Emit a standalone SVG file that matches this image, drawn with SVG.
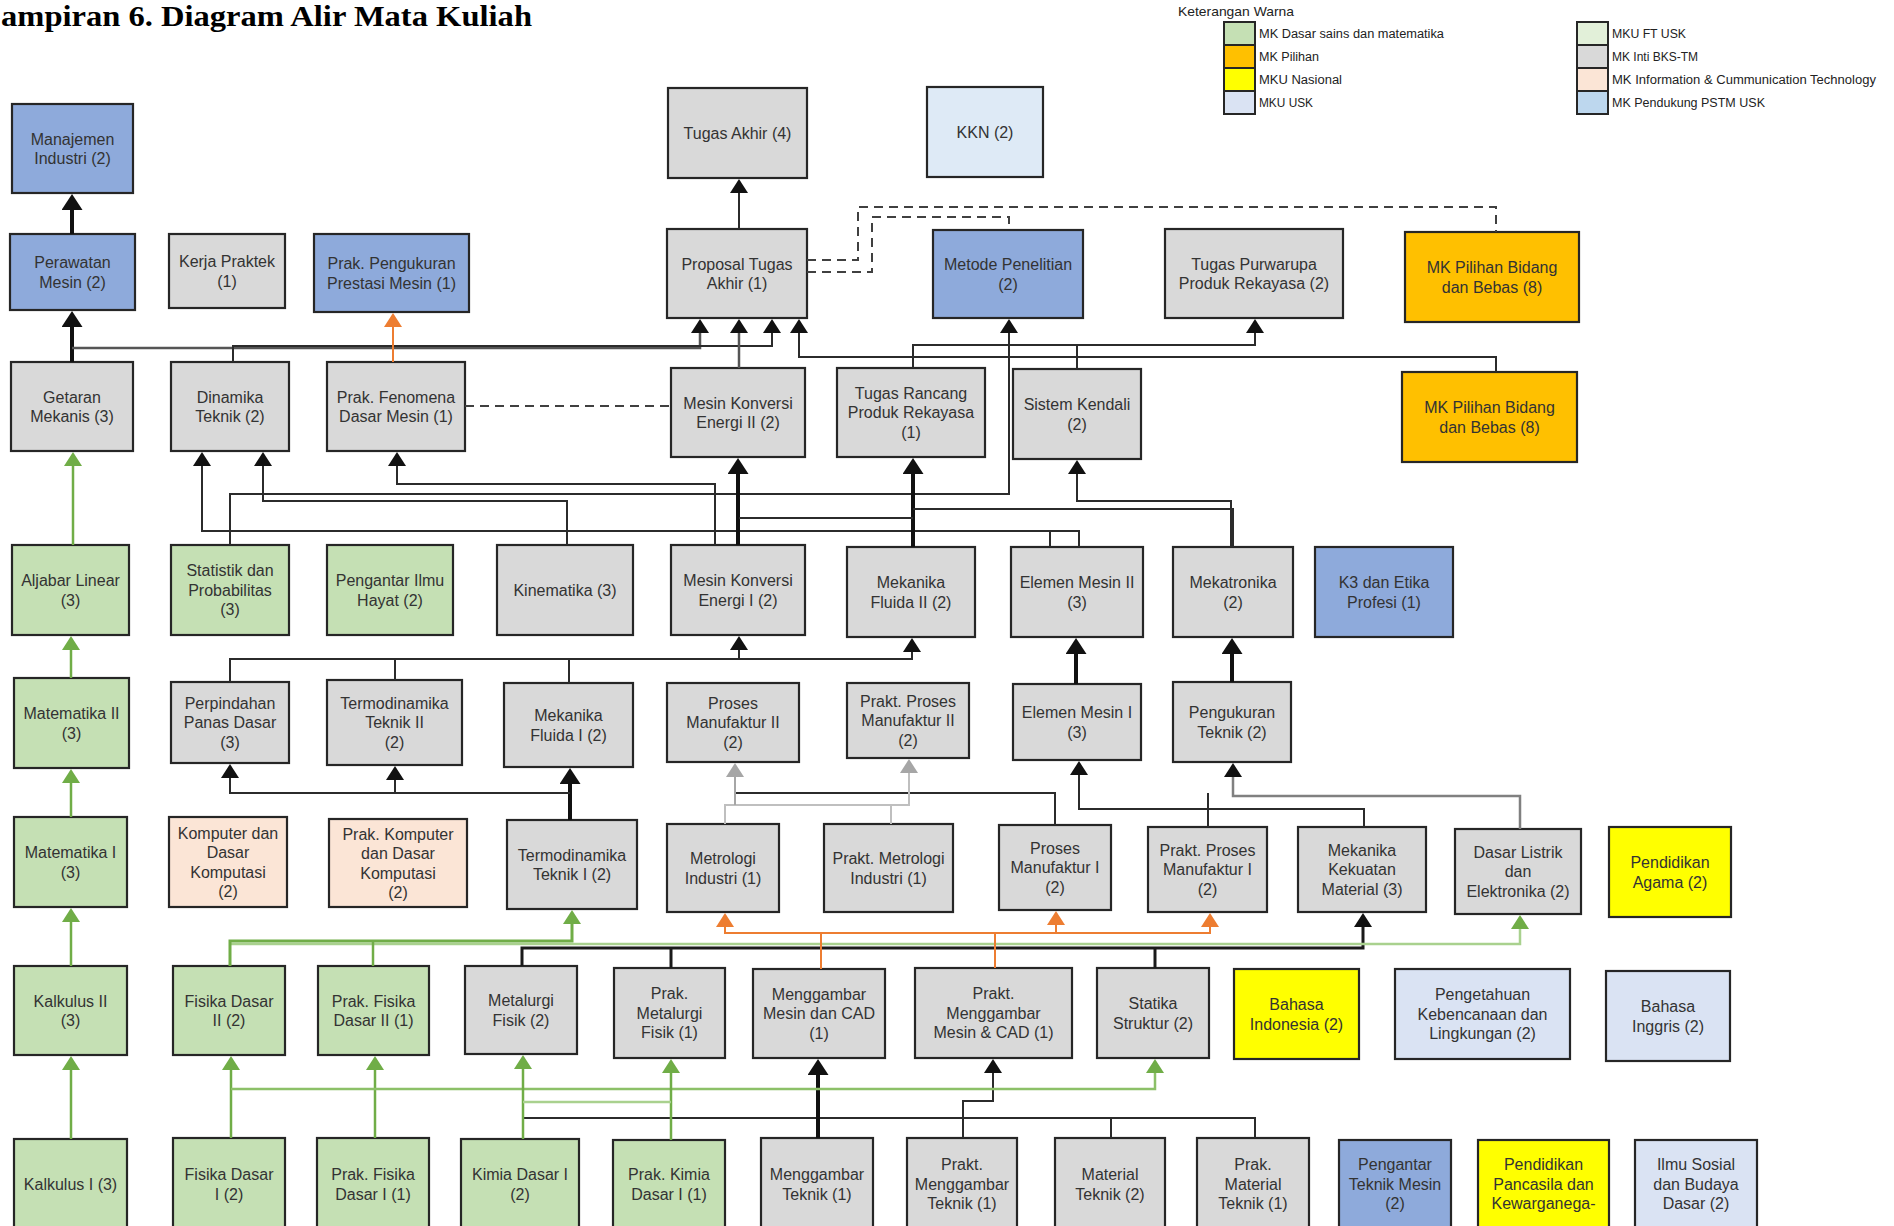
<svg xmlns="http://www.w3.org/2000/svg" width="1894" height="1226" viewBox="0 0 1894 1226">
<style>
.n rect{stroke:#262626;stroke-width:2.2}
.g{fill:#d9d9d9}.gr{fill:#c5e0b4}.b{fill:#8eaadb}.o{fill:#ffc000}.y{fill:#ffff00}.l{fill:#dae3f3}.p{fill:#fbe5d6}.k{fill:#deeaf6}.fg{fill:#e2f0d9}.pb{fill:#bdd7ee}
.t{font-family:"Liberation Sans",Arial,sans-serif;font-size:16px;fill:#333;text-anchor:middle}
.lg{font-family:"Liberation Sans",Arial,sans-serif;font-size:12.5px;fill:#222}
#connectors path{fill:none}
.c{stroke:#2b2b2b;stroke-width:2}
.c5{stroke:#555;stroke-width:2.5}
.ct{stroke:#111;stroke-width:4}
.cm{stroke:#1a1a1a;stroke-width:3}
.cg{stroke:#70ad47;stroke-width:2.5}
.clg{stroke:#a9d18e;stroke-width:2.5}
.cmg{stroke:#8cc068;stroke-width:2.5}
.co{stroke:#ed7d31;stroke-width:2}
.cgy{stroke:#bfbfbf;stroke-width:2}
.cgd{stroke:#808080;stroke-width:2.5}
.cd{stroke:#404040;stroke-width:2;stroke-dasharray:9 6}
</style>
<defs>
<marker id="ab" viewBox="0 0 14 18" refX="10" refY="9" markerWidth="14" markerHeight="18" markerUnits="userSpaceOnUse" orient="auto"><path d="M0,0L14,9L0,18z" fill="#111"/></marker>
<marker id="abb" viewBox="0 0 16 21" refX="11" refY="10.5" markerWidth="16" markerHeight="21" markerUnits="userSpaceOnUse" orient="auto"><path d="M0,0L16,10.5L0,21z" fill="#111"/></marker>
<marker id="ag" viewBox="0 0 14 18" refX="10" refY="9" markerWidth="14" markerHeight="18" markerUnits="userSpaceOnUse" orient="auto"><path d="M0,0L14,9L0,18z" fill="#70ad47"/></marker>
<marker id="ao" viewBox="0 0 14 18" refX="10" refY="9" markerWidth="14" markerHeight="18" markerUnits="userSpaceOnUse" orient="auto"><path d="M0,0L14,9L0,18z" fill="#ed7d31"/></marker>
<marker id="ay" viewBox="0 0 14 18" refX="10" refY="9" markerWidth="14" markerHeight="18" markerUnits="userSpaceOnUse" orient="auto"><path d="M0,0L14,9L0,18z" fill="#a6a6a6"/></marker>
</defs>
<rect width="1894" height="1226" fill="#fff"/>
<text x="1" y="26" font-family="Liberation Serif,serif" font-weight="bold" font-size="30" textLength="531" lengthAdjust="spacingAndGlyphs" fill="#000">ampiran 6. Diagram Alir Mata Kuliah</text>

<g id="legend">
<text x="1178" y="16" font-family="Liberation Sans,Arial,sans-serif" font-size="13" fill="#222" textLength="116" lengthAdjust="spacingAndGlyphs">Keterangan Warna</text>
<g stroke="#262626" stroke-width="2">
<rect x="1224" y="22" width="31" height="23" class="gr"/>
<rect x="1224" y="45" width="31" height="23" class="o"/>
<rect x="1224" y="68" width="31" height="23" class="y"/>
<rect x="1224" y="91" width="31" height="23" class="l"/>
<rect x="1577" y="22" width="31" height="23" class="fg"/>
<rect x="1577" y="45" width="31" height="23" class="g"/>
<rect x="1577" y="68" width="31" height="23" class="p"/>
<rect x="1577" y="91" width="31" height="23" class="pb"/>
</g>
<text class="lg" x="1259" y="38" textLength="185" lengthAdjust="spacingAndGlyphs">MK Dasar sains dan matematika</text>
<text class="lg" x="1259" y="61" textLength="60" lengthAdjust="spacingAndGlyphs">MK Pilihan</text>
<text class="lg" x="1259" y="84" textLength="83" lengthAdjust="spacingAndGlyphs">MKU Nasional</text>
<text class="lg" x="1259" y="107" textLength="54" lengthAdjust="spacingAndGlyphs">MKU USK</text>
<text class="lg" x="1612" y="38" textLength="74" lengthAdjust="spacingAndGlyphs">MKU FT USK</text>
<text class="lg" x="1612" y="61" textLength="86" lengthAdjust="spacingAndGlyphs">MK Inti BKS-TM</text>
<text class="lg" x="1612" y="84" textLength="264" lengthAdjust="spacingAndGlyphs">MK Information &amp; Cummunication Technology</text>
<text class="lg" x="1612" y="107" textLength="153" lengthAdjust="spacingAndGlyphs">MK Pendukung PSTM USK</text>
</g>

<g id="nodes">
<g id="manajemen-industri" class="n"><rect class="b" x="12" y="104" width="121" height="89"/><text class="t" y="144.5"><tspan x="72.5">Manajemen</tspan><tspan x="72.5" dy="19.5">Industri (2)</tspan></text></g>
<g id="tugas-akhir" class="n"><rect class="g" x="668" y="88" width="139" height="90"/><text class="t" x="737.5" y="138.7">Tugas Akhir (4)</text></g>
<g id="kkn" class="n"><rect class="k" x="927" y="87" width="116" height="90"/><text class="t" x="985" y="137.7">KKN (2)</text></g>

<g id="perawatan-mesin" class="n"><rect class="b" x="10" y="234" width="125" height="76"/><text class="t" y="268"><tspan x="72.5">Perawatan</tspan><tspan x="72.5" dy="19.5">Mesin (2)</tspan></text></g>
<g id="kerja-praktek" class="n"><rect class="g" x="169" y="234" width="116" height="74"/><text class="t" y="267"><tspan x="227">Kerja Praktek</tspan><tspan x="227" dy="19.5">(1)</tspan></text></g>
<g id="prak-pengukuran" class="n"><rect class="b" x="314" y="234" width="155" height="78"/><text class="t" y="269"><tspan x="391.5">Prak. Pengukuran</tspan><tspan x="391.5" dy="19.5">Prestasi Mesin (1)</tspan></text></g>
<g id="proposal-ta" class="n"><rect class="g" x="667" y="229" width="140" height="89"/><text class="t" y="269.5"><tspan x="737">Proposal Tugas</tspan><tspan x="737" dy="19.5">Akhir (1)</tspan></text></g>
<g id="metode-penelitian" class="n"><rect class="b" x="933" y="230" width="150" height="88"/><text class="t" y="270"><tspan x="1008">Metode Penelitian</tspan><tspan x="1008" dy="19.5">(2)</tspan></text></g>
<g id="tugas-purwarupa" class="n"><rect class="g" x="1165" y="229" width="178" height="89"/><text class="t" y="269.5"><tspan x="1254">Tugas Purwarupa</tspan><tspan x="1254" dy="19.5">Produk Rekayasa (2)</tspan></text></g>
<g id="mk-pilihan-1" class="n"><rect class="o" x="1405" y="232" width="174" height="90"/><text class="t" y="273"><tspan x="1492">MK Pilihan Bidang</tspan><tspan x="1492" dy="19.5">dan Bebas (8)</tspan></text></g>

<g id="getaran-mekanis" class="n"><rect class="g" x="11" y="362" width="122" height="89"/><text class="t" y="402.5"><tspan x="72">Getaran</tspan><tspan x="72" dy="19.5">Mekanis (3)</tspan></text></g>
<g id="dinamika-teknik" class="n"><rect class="g" x="171" y="362" width="118" height="89"/><text class="t" y="402.5"><tspan x="230">Dinamika</tspan><tspan x="230" dy="19.5">Teknik (2)</tspan></text></g>
<g id="prak-fenomena" class="n"><rect class="g" x="327" y="362" width="138" height="89"/><text class="t" y="402.5"><tspan x="396">Prak. Fenomena</tspan><tspan x="396" dy="19.5">Dasar Mesin (1)</tspan></text></g>
<g id="mke-2" class="n"><rect class="g" x="671" y="368" width="134" height="89"/><text class="t" y="408.5"><tspan x="738">Mesin Konversi</tspan><tspan x="738" dy="19.5">Energi II (2)</tspan></text></g>
<g id="tugas-rancang" class="n"><rect class="g" x="837" y="368" width="148" height="89"/><text class="t" y="398.7"><tspan x="911">Tugas Rancang</tspan><tspan x="911" dy="19.5">Produk Rekayasa</tspan><tspan x="911" dy="19.5">(1)</tspan></text></g>
<g id="sistem-kendali" class="n"><rect class="g" x="1013" y="369" width="128" height="90"/><text class="t" y="410"><tspan x="1077">Sistem Kendali</tspan><tspan x="1077" dy="19.5">(2)</tspan></text></g>
<g id="mk-pilihan-2" class="n"><rect class="o" x="1402" y="372" width="175" height="90"/><text class="t" y="413"><tspan x="1489.5">MK Pilihan Bidang</tspan><tspan x="1489.5" dy="19.5">dan Bebas (8)</tspan></text></g>

<g id="aljabar-linear" class="n"><rect class="gr" x="12" y="545" width="117" height="90"/><text class="t" y="586"><tspan x="70.5">Aljabar Linear</tspan><tspan x="70.5" dy="19.5">(3)</tspan></text></g>
<g id="statistik" class="n"><rect class="gr" x="171" y="545" width="118" height="90"/><text class="t" y="576.2"><tspan x="230">Statistik dan</tspan><tspan x="230" dy="19.5">Probabilitas</tspan><tspan x="230" dy="19.5">(3)</tspan></text></g>
<g id="ilmu-hayat" class="n"><rect class="gr" x="327" y="545" width="126" height="90"/><text class="t" y="586"><tspan x="390">Pengantar Ilmu</tspan><tspan x="390" dy="19.5">Hayat (2)</tspan></text></g>
<g id="kinematika" class="n"><rect class="g" x="497" y="545" width="136" height="90"/><text class="t" x="565" y="595.7">Kinematika (3)</text></g>
<g id="mke-1" class="n"><rect class="g" x="671" y="545" width="134" height="90"/><text class="t" y="586"><tspan x="738">Mesin Konversi</tspan><tspan x="738" dy="19.5">Energi I (2)</tspan></text></g>
<g id="mekflu-2" class="n"><rect class="g" x="847" y="547" width="128" height="90"/><text class="t" y="588"><tspan x="911">Mekanika</tspan><tspan x="911" dy="19.5">Fluida II (2)</tspan></text></g>
<g id="elemen-mesin-2" class="n"><rect class="g" x="1011" y="547" width="132" height="90"/><text class="t" y="588"><tspan x="1077">Elemen Mesin II</tspan><tspan x="1077" dy="19.5">(3)</tspan></text></g>
<g id="mekatronika" class="n"><rect class="g" x="1173" y="547" width="120" height="90"/><text class="t" y="588"><tspan x="1233">Mekatronika</tspan><tspan x="1233" dy="19.5">(2)</tspan></text></g>
<g id="k3" class="n"><rect class="b" x="1315" y="547" width="138" height="90"/><text class="t" y="588"><tspan x="1384">K3 dan Etika</tspan><tspan x="1384" dy="19.5">Profesi (1)</tspan></text></g>

<g id="matematika-2" class="n"><rect class="gr" x="14" y="678" width="115" height="90"/><text class="t" y="719"><tspan x="71.5">Matematika II</tspan><tspan x="71.5" dy="19.5">(3)</tspan></text></g>
<g id="perpindahan-panas" class="n"><rect class="g" x="171" y="682" width="118" height="81"/><text class="t" y="708.7"><tspan x="230">Perpindahan</tspan><tspan x="230" dy="19.5">Panas Dasar</tspan><tspan x="230" dy="19.5">(3)</tspan></text></g>
<g id="termo-2" class="n"><rect class="g" x="327" y="680" width="135" height="85"/><text class="t" y="708.7"><tspan x="394.5">Termodinamika</tspan><tspan x="394.5" dy="19.5">Teknik II</tspan><tspan x="394.5" dy="19.5">(2)</tspan></text></g>
<g id="mekflu-1" class="n"><rect class="g" x="504" y="683" width="129" height="84"/><text class="t" y="721"><tspan x="568.5">Mekanika</tspan><tspan x="568.5" dy="19.5">Fluida I (2)</tspan></text></g>
<g id="pm-2" class="n"><rect class="g" x="667" y="683" width="132" height="79"/><text class="t" y="708.7"><tspan x="733">Proses</tspan><tspan x="733" dy="19.5">Manufaktur II</tspan><tspan x="733" dy="19.5">(2)</tspan></text></g>
<g id="ppm-2" class="n"><rect class="g" x="847" y="683" width="122" height="75"/><text class="t" y="706.7"><tspan x="908">Prakt. Proses</tspan><tspan x="908" dy="19.5">Manufaktur II</tspan><tspan x="908" dy="19.5">(2)</tspan></text></g>
<g id="elemen-mesin-1" class="n"><rect class="g" x="1013" y="684" width="128" height="76"/><text class="t" y="718"><tspan x="1077">Elemen Mesin I</tspan><tspan x="1077" dy="19.5">(3)</tspan></text></g>
<g id="pengukuran-teknik" class="n"><rect class="g" x="1173" y="682" width="118" height="80"/><text class="t" y="718"><tspan x="1232">Pengukuran</tspan><tspan x="1232" dy="19.5">Teknik (2)</tspan></text></g>

<g id="matematika-1" class="n"><rect class="gr" x="14" y="817" width="113" height="90"/><text class="t" y="858"><tspan x="70.5">Matematika I</tspan><tspan x="70.5" dy="19.5">(3)</tspan></text></g>
<g id="komputer" class="n"><rect class="p" x="169" y="817" width="118" height="90"/><text class="t" y="838.5"><tspan x="228">Komputer dan</tspan><tspan x="228" dy="19.5">Dasar</tspan><tspan x="228" dy="19.5">Komputasi</tspan><tspan x="228" dy="19.5">(2)</tspan></text></g>
<g id="prak-komputer" class="n"><rect class="p" x="329" y="819" width="138" height="88"/><text class="t" y="839.5"><tspan x="398">Prak. Komputer</tspan><tspan x="398" dy="19.5">dan Dasar</tspan><tspan x="398" dy="19.5">Komputasi</tspan><tspan x="398" dy="19.5">(2)</tspan></text></g>
<g id="termo-1" class="n"><rect class="g" x="507" y="820" width="130" height="89"/><text class="t" y="860.5"><tspan x="572">Termodinamika</tspan><tspan x="572" dy="19.5">Teknik I (2)</tspan></text></g>
<g id="metrologi" class="n"><rect class="g" x="667" y="824" width="112" height="88"/><text class="t" y="864"><tspan x="723">Metrologi</tspan><tspan x="723" dy="19.5">Industri (1)</tspan></text></g>
<g id="prakt-metrologi" class="n"><rect class="g" x="824" y="824" width="129" height="88"/><text class="t" y="864"><tspan x="888.5">Prakt. Metrologi</tspan><tspan x="888.5" dy="19.5">Industri (1)</tspan></text></g>
<g id="pm-1" class="n"><rect class="g" x="999" y="825" width="112" height="85"/><text class="t" y="853.7"><tspan x="1055">Proses</tspan><tspan x="1055" dy="19.5">Manufaktur I</tspan><tspan x="1055" dy="19.5">(2)</tspan></text></g>
<g id="ppm-1" class="n"><rect class="g" x="1148" y="827" width="119" height="85"/><text class="t" y="855.7"><tspan x="1207.5">Prakt. Proses</tspan><tspan x="1207.5" dy="19.5">Manufaktur I</tspan><tspan x="1207.5" dy="19.5">(2)</tspan></text></g>
<g id="mkm" class="n"><rect class="g" x="1298" y="827" width="128" height="85"/><text class="t" y="855.7"><tspan x="1362">Mekanika</tspan><tspan x="1362" dy="19.5">Kekuatan</tspan><tspan x="1362" dy="19.5">Material (3)</tspan></text></g>
<g id="dasar-listrik" class="n"><rect class="g" x="1455" y="829" width="126" height="85"/><text class="t" y="857.7"><tspan x="1518">Dasar Listrik</tspan><tspan x="1518" dy="19.5">dan</tspan><tspan x="1518" dy="19.5">Elektronika (2)</tspan></text></g>
<g id="agama" class="n"><rect class="y" x="1609" y="827" width="122" height="90"/><text class="t" y="868"><tspan x="1670">Pendidikan</tspan><tspan x="1670" dy="19.5">Agama (2)</tspan></text></g>

<g id="kalkulus-2" class="n"><rect class="gr" x="14" y="966" width="113" height="89"/><text class="t" y="1006.5"><tspan x="70.5">Kalkulus II</tspan><tspan x="70.5" dy="19.5">(3)</tspan></text></g>
<g id="fisika-2" class="n"><rect class="gr" x="173" y="966" width="112" height="89"/><text class="t" y="1006.5"><tspan x="229">Fisika Dasar</tspan><tspan x="229" dy="19.5">II (2)</tspan></text></g>
<g id="prak-fisika-2" class="n"><rect class="gr" x="318" y="966" width="111" height="89"/><text class="t" y="1006.5"><tspan x="373.5">Prak. Fisika</tspan><tspan x="373.5" dy="19.5">Dasar II (1)</tspan></text></g>
<g id="metalurgi" class="n"><rect class="g" x="465" y="966" width="112" height="88"/><text class="t" y="1006"><tspan x="521">Metalurgi</tspan><tspan x="521" dy="19.5">Fisik (2)</tspan></text></g>
<g id="prak-metalurgi" class="n"><rect class="g" x="614" y="968" width="111" height="90"/><text class="t" y="999.2"><tspan x="669.5">Prak.</tspan><tspan x="669.5" dy="19.5">Metalurgi</tspan><tspan x="669.5" dy="19.5">Fisik (1)</tspan></text></g>
<g id="mm-cad" class="n"><rect class="g" x="753" y="969" width="132" height="89"/><text class="t" y="999.7"><tspan x="819">Menggambar</tspan><tspan x="819" dy="19.5">Mesin dan CAD</tspan><tspan x="819" dy="19.5">(1)</tspan></text></g>
<g id="pmm-cad" class="n"><rect class="g" x="915" y="968" width="157" height="90"/><text class="t" y="999.2"><tspan x="993.5">Prakt.</tspan><tspan x="993.5" dy="19.5">Menggambar</tspan><tspan x="993.5" dy="19.5">Mesin &amp; CAD (1)</tspan></text></g>
<g id="statika" class="n"><rect class="g" x="1097" y="968" width="112" height="90"/><text class="t" y="1009"><tspan x="1153">Statika</tspan><tspan x="1153" dy="19.5">Struktur (2)</tspan></text></g>
<g id="bahasa-indonesia" class="n"><rect class="y" x="1234" y="969" width="125" height="90"/><text class="t" y="1010"><tspan x="1296.5">Bahasa</tspan><tspan x="1296.5" dy="19.5">Indonesia (2)</tspan></text></g>
<g id="kebencanaan" class="n"><rect class="l" x="1395" y="969" width="175" height="90"/><text class="t" y="1000.2"><tspan x="1482.5">Pengetahuan</tspan><tspan x="1482.5" dy="19.5">Kebencanaan dan</tspan><tspan x="1482.5" dy="19.5">Lingkungan (2)</tspan></text></g>
<g id="bahasa-inggris" class="n"><rect class="l" x="1606" y="971" width="124" height="90"/><text class="t" y="1012"><tspan x="1668">Bahasa</tspan><tspan x="1668" dy="19.5">Inggris (2)</tspan></text></g>

<g id="kalkulus-1" class="n"><rect class="gr" x="14" y="1139" width="113" height="90"/><text class="t" x="70.5" y="1189.7">Kalkulus I (3)</text></g>
<g id="fisika-1" class="n"><rect class="gr" x="173" y="1138" width="112" height="91"/><text class="t" y="1180"><tspan x="229">Fisika Dasar</tspan><tspan x="229" dy="19.5">I (2)</tspan></text></g>
<g id="prak-fisika-1" class="n"><rect class="gr" x="317" y="1138" width="112" height="91"/><text class="t" y="1180"><tspan x="373">Prak. Fisika</tspan><tspan x="373" dy="19.5">Dasar I (1)</tspan></text></g>
<g id="kimia" class="n"><rect class="gr" x="461" y="1139" width="118" height="90"/><text class="t" y="1180"><tspan x="520">Kimia Dasar I</tspan><tspan x="520" dy="19.5">(2)</tspan></text></g>
<g id="prak-kimia" class="n"><rect class="gr" x="613" y="1140" width="112" height="90"/><text class="t" y="1180"><tspan x="669">Prak. Kimia</tspan><tspan x="669" dy="19.5">Dasar I (1)</tspan></text></g>
<g id="menggambar-teknik" class="n"><rect class="g" x="761" y="1138" width="112" height="91"/><text class="t" y="1180"><tspan x="817">Menggambar</tspan><tspan x="817" dy="19.5">Teknik (1)</tspan></text></g>
<g id="prakt-menggambar-teknik" class="n"><rect class="g" x="907" y="1138" width="110" height="91"/><text class="t" y="1170.2"><tspan x="962">Prakt.</tspan><tspan x="962" dy="19.5">Menggambar</tspan><tspan x="962" dy="19.5">Teknik (1)</tspan></text></g>
<g id="material-teknik" class="n"><rect class="g" x="1055" y="1138" width="110" height="91"/><text class="t" y="1180"><tspan x="1110">Material</tspan><tspan x="1110" dy="19.5">Teknik (2)</tspan></text></g>
<g id="prak-material" class="n"><rect class="g" x="1197" y="1138" width="112" height="91"/><text class="t" y="1170.2"><tspan x="1253">Prak.</tspan><tspan x="1253" dy="19.5">Material</tspan><tspan x="1253" dy="19.5">Teknik (1)</tspan></text></g>
<g id="pengantar-tm" class="n"><rect class="b" x="1339" y="1140" width="112" height="90"/><text class="t" y="1170.2"><tspan x="1395">Pengantar</tspan><tspan x="1395" dy="19.5">Teknik Mesin</tspan><tspan x="1395" dy="19.5">(2)</tspan></text></g>
<g id="pancasila" class="n"><rect class="y" x="1478" y="1140" width="131" height="90"/><text class="t" y="1170.2"><tspan x="1543.5">Pendidikan</tspan><tspan x="1543.5" dy="19.5">Pancasila dan</tspan><tspan x="1543.5" dy="19.5">Kewarganega-</tspan></text></g>
<g id="isbd" class="n"><rect class="l" x="1635" y="1140" width="122" height="90"/><text class="t" y="1170.2"><tspan x="1696">Ilmu Sosial</tspan><tspan x="1696" dy="19.5">dan Budaya</tspan><tspan x="1696" dy="19.5">Dasar (2)</tspan></text></g>
</g>

<g id="connectors">
<path class="ct" d="M72,234V199" marker-end="url(#abb)"/>
<path class="ct" d="M72,362V316" marker-end="url(#abb)"/>
<path class="c5" d="M72,348H700V323" marker-end="url(#ab)"/>
<path class="c" d="M233,362V346H772V323" marker-end="url(#ab)"/>
<path class="c5" d="M739,368V323" marker-end="url(#ab)"/>
<path class="c" d="M1496,372V357H799V323" marker-end="url(#ab)"/>
<path class="c" d="M739,229V183" marker-end="url(#ab)"/>
<path class="cd" d="M807,260H858V207H1496V232"/>
<path class="cd" d="M807,272H872V217H1009V230"/>
<path class="cd" d="M465,406H671"/>
<path class="c" d="M913,368V345H1255V323" marker-end="url(#ab)"/>
<path class="c" d="M1077,369V345"/>
<path class="c" d="M230,545V494H1009V323" marker-end="url(#ab)"/>
<path class="co" d="M393,362V317" marker-end="url(#ao)"/>
<path class="c" d="M715,545V484H397V456" marker-end="url(#ab)"/>
<path class="c" d="M567,545V501H263V456" marker-end="url(#ab)"/>
<path class="c" d="M1079,547V531H202V456" marker-end="url(#ab)"/>
<path class="c" d="M1050,547V531"/>
<path class="ct" d="M738,545V463" marker-end="url(#abb)"/>
<path class="ct" d="M913,547V463" marker-end="url(#abb)"/>
<path class="c" d="M739,518H913"/>
<path class="c" d="M1233,547V509H913"/>
<path class="c" d="M1231,547V501H1077V464" marker-end="url(#ab)"/>
<path class="c" d="M230,682V659H912V642" marker-end="url(#ab)"/>
<path class="c" d="M739,659V640" marker-end="url(#ab)"/>
<path class="c" d="M395,680V659"/>
<path class="c" d="M569,683V659"/>
<path class="ct" d="M570,820V773" marker-end="url(#abb)"/>
<path class="c" d="M570,793H230V768" marker-end="url(#ab)"/>
<path class="c" d="M395,793V770" marker-end="url(#ab)"/>
<path class="c" d="M1055,825V793H735"/>
<path class="c" d="M1208,827V793"/>
<path class="cgy" d="M725,824V805H909V763" marker-end="url(#ay)"/>
<path class="cgy" d="M891,824V805"/>
<path class="cgy" d="M735,805V767" marker-end="url(#ay)" style="stroke:#a6a6a6"/>
<path class="c" d="M1364,827V809H1079V765" marker-end="url(#ab)"/>
<path class="cgd" d="M1520,829V796H1233V767" marker-end="url(#ab)"/>
<path class="ct" d="M1076,684V643" marker-end="url(#abb)"/>
<path class="ct" d="M1232,682V643" marker-end="url(#abb)"/>
<path class="c" d="M963,1138V1101H993V1063" marker-end="url(#ab)"/>
<path class="c" d="M523,1118H1255V1138"/>
<path class="c" d="M1111,1118V1138"/>
<path class="ct" d="M818,1138V1064" marker-end="url(#abb)"/>
<path class="cm" d="M522,966V948H1363V917" marker-end="url(#ab)"/>
<path class="cm" d="M671,968V948"/>
<path class="cm" d="M1155,968V948"/>
<path class="cg" d="M73,545V456" marker-end="url(#ag)"/>
<path class="cg" d="M71,678V640" marker-end="url(#ag)"/>
<path class="cg" d="M71,817V773" marker-end="url(#ag)"/>
<path class="cg" d="M71,966V912" marker-end="url(#ag)"/>
<path class="cg" d="M71,1139V1060" marker-end="url(#ag)"/>
<path class="clg" d="M230,944H1520V919" marker-end="url(#ag)"/>
<path class="cg" d="M230,966V941H572V914" marker-end="url(#ag)" style="stroke-width:3"/>
<path class="cg" d="M373,966V941"/>
<path class="cg" d="M231,1138V1060" marker-end="url(#ag)"/>
<path class="cg" d="M375,1138V1060" marker-end="url(#ag)"/>
<path class="cmg" d="M231,1089H1155V1063" marker-end="url(#ag)"/>
<path class="cg" d="M523,1139V1059" marker-end="url(#ag)"/>
<path class="cg" d="M671,1140V1063" marker-end="url(#ag)"/>
<path class="clg" d="M523,1102H671"/>
<path class="co" d="M821,969V933H725V917" marker-end="url(#ao)"/>
<path class="co" d="M821,933H1210V917" marker-end="url(#ao)"/>
<path class="co" d="M1056,933V915" marker-end="url(#ao)"/>
<path class="co" d="M995,968V933"/>
</g>
</svg>
